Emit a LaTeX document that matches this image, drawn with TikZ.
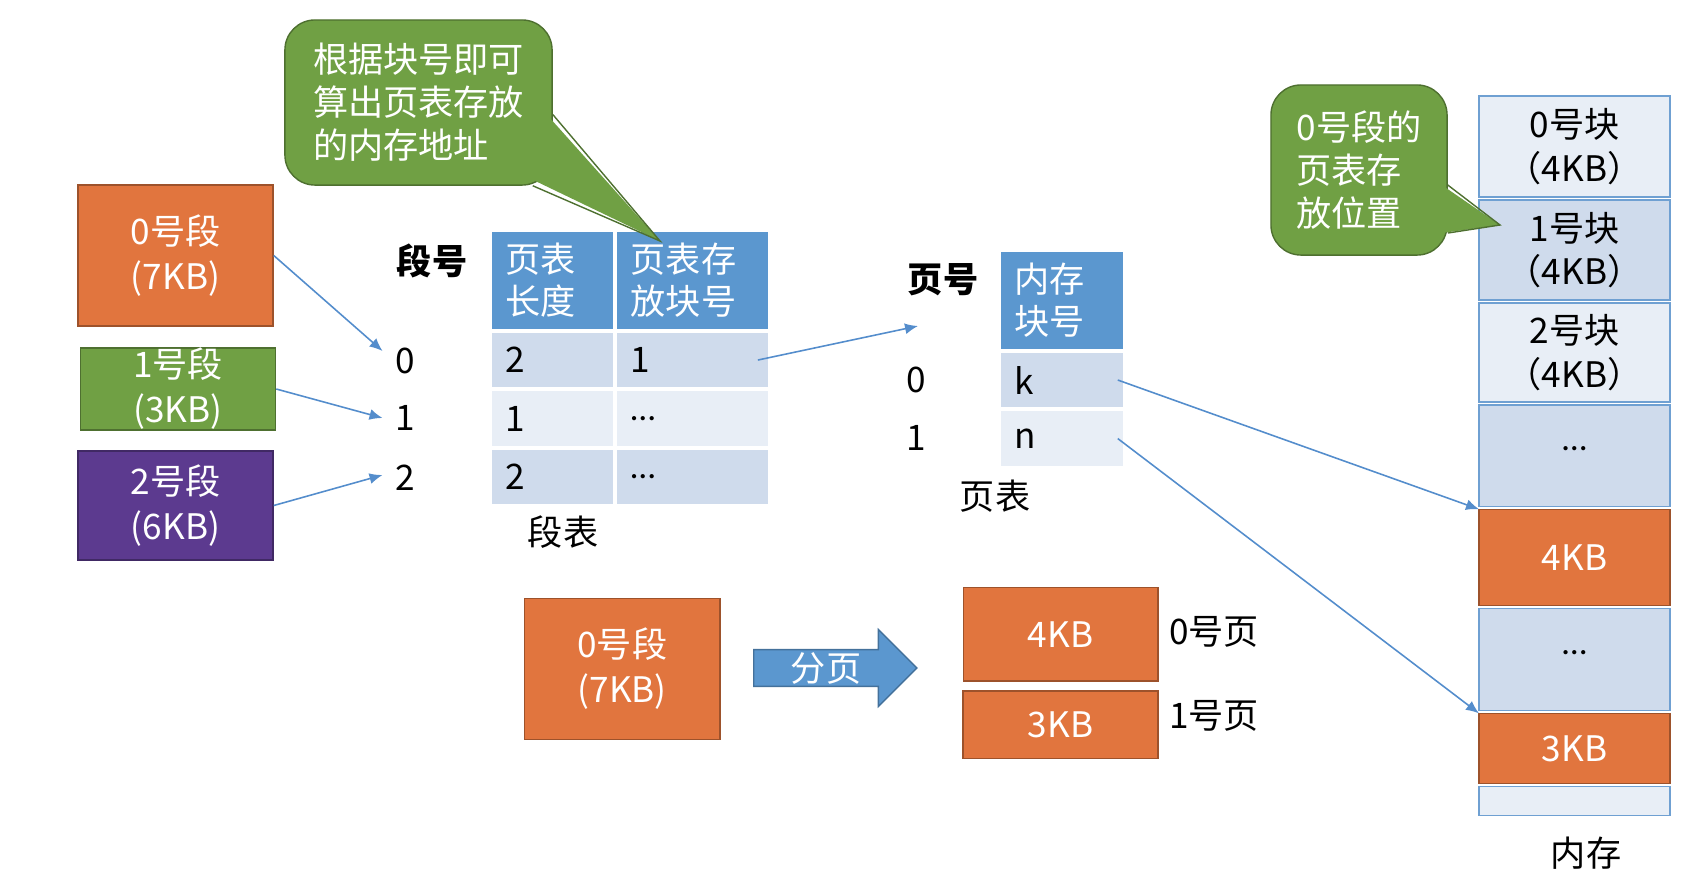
\documentclass[tikz,border=0pt]{standalone}
\usepackage{fontspec}
\setmainfont{Noto Sans CJK SC}
\newfontfamily\latfont{Carlito}
\usetikzlibrary{arrows.meta,
                matrix,
                positioning,
                shapes.arrows}
\definecolor{cOrange}{RGB}{225,117,62}
\definecolor{cGreen}{RGB}{112,160,68}
\definecolor{cPurple}{RGB}{92,58,143}
\definecolor{cHead}{RGB}{91,151,207}
\definecolor{cDark}{RGB}{207,219,236}
\definecolor{cLight}{RGB}{232,238,246}
\definecolor{cEdge}{RGB}{111,160,210}
\definecolor{cLink}{RGB}{84,141,204}

\begin{document}
\begin{tikzpicture}[x=0.01cm, y=-0.01cm,
        font = \fontsize{10}{12.5}\selectfont,
node distance = 0.03cm,
   SEG/.style = {draw=#1!70!black, fill=#1, text=white, align=center,
                 minimum width=1.95cm, inner sep=0pt,
                 font=\fontsize{10}{12.8}\selectfont},
  CALL/.style = {draw=cGreen!70!black, fill=cGreen, text=white,
                 align=left, rounded corners=0.3cm, inner sep=0pt,
                 font=\fontsize{10}{12.2}\selectfont},
   PTR/.style = {fill=cGreen},
  PTRL/.style = {draw=cGreen!70!black},
   NUM/.style = {inner sep=0.12cm},
   LBL/.style = {font=\fontsize{10}{12}\selectfont\bfseries},
  MTRX/.style = {matrix of nodes, inner sep=0pt, anchor=north west,
                 nodes={anchor=center, inner xsep=0.14cm, inner ysep=0pt,
                        outer sep=0pt, minimum height=0.545cm, align=left,
                        font=\fontsize{10}{11.8}\selectfont},
                 column sep=0.04cm,
                 row sep=0.04cm},
    CH/.style = {fill=cHead, text=white, minimum height=0.97cm},
    CD/.style = {fill=cDark},  % row Colour Dark
    CL/.style = {fill=cLight}, % row Colour Light
   MEM/.style = {draw=cEdge, minimum width=1.91cm, align=center,
                 inner sep=0pt, outer sep=0pt},
  LINK/.style = {draw=cLink, line width=0.45pt,
                 -{Latex[length=1.3mm, width=1.1mm]}}
                        ]
\useasboundingbox (0,0) rectangle (1703,875);
% segments on the left
\node (s0) [SEG=cOrange, minimum height=1.41cm] at (175.5,255.5) {0号段\\(7KB)};
\node (s1) [SEG=cGreen,  minimum height=0.82cm] at (178,389) {1号段\\(3KB)};
\node (s2) [SEG=cPurple, minimum height=1.09cm] at (175.5,505.5) {2号段\\(6KB)};
\node (dh) [LBL] at (432,261) {段号};
\node (n0) [NUM] at (405,361) {0};
\node (n1) [NUM] at (405,418) {1};
\node (n2) [NUM] at (405,478) {2};
% segment table
\matrix  (st) [MTRX,
               column 1/.append style = {nodes={text width=0.93cm}},
               column 2/.append style = {nodes={text width=1.23cm}},
               row 1/.append style = {nodes={CH}},
               row 2/.append style = {nodes={CD}},
               row 3/.append style = {nodes={CL}},
               row 4/.append style = {nodes={CD}}
               ] at (491,231)
{
{页表\\长度} & {页表存\\放块号} \\
2 & 1 \\
1 & {\latfont …} \\
2 & {\latfont …} \\
};
\node (stl) at (563,532) {段表};
% page table
\node (yh) [LBL] at (943,280) {页号};
\node (p0) [NUM] at (916,380) {0};
\node (p1) [NUM] at (916,438) {1};
\matrix  (pt) [MTRX,
               column 1/.append style = {nodes={text width=0.94cm}},
               row 1/.append style = {nodes={CH}},
               row 2/.append style = {nodes={CD}},
               row 3/.append style = {nodes={CL}}
               ] at (1000,251)
{
{内存\\块号} \\
k \\
n \\
};
\node (ptl) at (995,496) {页表};
% memory
\node (b0) [MEM, fill=cLight, minimum height=1.01cm, anchor=north west] at (1479,96) {0号块\\（4KB）};
\node (b1) [MEM, fill=cDark,  minimum height=1.00cm, below=of b0] {1号块\\（4KB）};
\node (b2) [MEM, fill=cLight, minimum height=0.99cm, below=of b1] {2号块\\（4KB）};
\node (b3) [MEM, fill=cDark,  minimum height=1.01cm, below=of b2] {\raisebox{0.14cm}{\latfont …}};
\node (b4) [MEM, fill=cOrange, draw=cOrange!70!black, text=white,
            minimum height=0.96cm, below=of b3] {4KB};
\node (b5) [MEM, fill=cDark,  minimum height=1.02cm, below=of b4] {\raisebox{0.14cm}{\latfont …}};
\node (b6) [MEM, fill=cOrange, draw=cOrange!70!black, text=white,
            minimum height=0.70cm, below=of b5] {3KB};
\node (b7) [MEM, fill=cLight, minimum height=0.29cm, below=of b6] {};
\node (ncm) at (1586,853) {内存};
% callouts
\node (c1) [CALL, minimum width=2.67cm, minimum height=1.65cm] at (418.5,102.5)
      {根据块号即可\\算出页表存放\\的内存地址};
\coordinate (t1) at (660,241);
\fill[PTR] ([shift={(-0.06cm,-0.12cm)}]c1.east) -- (t1)
        -- ([shift={(-0.2cm,0.06cm)}]c1.south east) -- cycle;
\draw[PTRL] ([yshift=-0.12cm]c1.east) -- (t1) -- ([xshift=-0.2cm]c1.south east);
\node (c2) [CALL, minimum width=1.76cm, minimum height=1.70cm] at (1359,170)
      {0号段的\\页表存\\放位置};
\coordinate (t2) at (1500,225);
\fill[PTR] ([shift={(-0.06cm,-0.15cm)}]c2.east) -- (t2)
        -- ([shift={(-0.06cm,-0.63cm)}]c2.east) -- cycle;
\draw[PTRL] ([yshift=-0.15cm]c2.east) -- (t2) -- ([yshift=-0.63cm]c2.east);
% paging of segment 0
\node (bs) [SEG=cOrange, minimum width=1.955cm, minimum height=1.41cm] at (622.3,669) {0号段\\(7KB)};
\node (fy) [single arrow, fill=cHead, draw=cHead!75!black, text=white,
            minimum height=1.63cm, single arrow head extend=0.2cm,
            inner ysep=0.5pt, anchor=tail] at (753,668) {分页};
\node (g0) [SEG=cOrange, minimum width=1.944cm, minimum height=0.934cm] at (1060.6,634.3) {4KB};
\node (g1) [SEG=cOrange, minimum height=0.673cm, below=0.085cm of g0] {3KB};
\node (g0l) at (1214,632) {0号页};
\node (g1l) at (1214,716) {1号页};
% connectors
\draw[LINK] (s0.east) -- ([yshift=0.1cm]n0.west);
\draw[LINK] (s1.east) -- (n1.west);
\draw[LINK] (s2.east) -- ([yshift=0.03cm]n2.west);
\coordinate (pin) at (918,326);
\draw[LINK] ([xshift=-0.1cm]st-2-2.east) -- (pin);
\draw[LINK] ([xshift=-0.05cm]pt-2-1.east) -- (b4.north west);
\draw[LINK] ([xshift=-0.05cm]pt-3-1.east) -- (b6.north west);
\end{tikzpicture}
\end{document}
